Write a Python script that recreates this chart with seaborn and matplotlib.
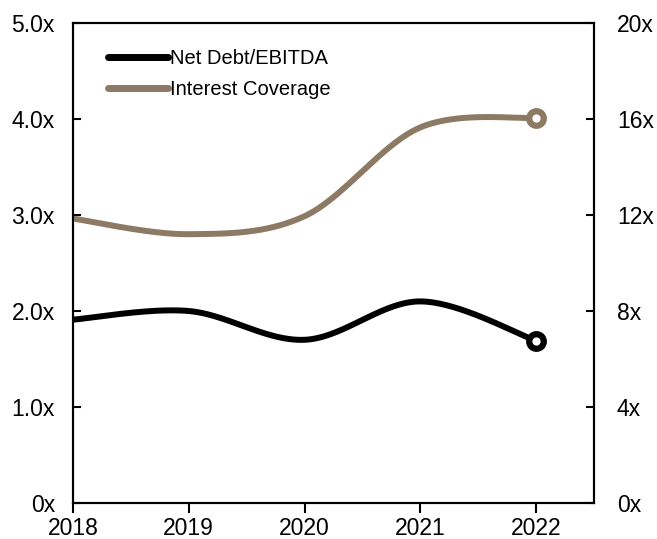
import numpy as np
import pandas as pd
import matplotlib
matplotlib.use("Agg")
import matplotlib.pyplot as plt
import seaborn as sns
from matplotlib.lines import Line2D

years = [2018, 2019, 2020, 2021, 2022]
net_debt_ebitda = [1.91, 2.00, 1.70, 2.10, 1.69]
interest_coverage = [11.85, 11.2, 11.95, 15.65, 16.05]
left_ticks = [0, 1, 2, 3, 4, 5]
left_labels = ["0x", "1.0x", "2.0x", "3.0x", "4.0x", "5.0x"]
right_ticks = [0, 4, 8, 12, 16, 20]
right_labels = ["0x", "4x", "8x", "12x", "16x", "20x"]
series_names = ["Net Debt/EBITDA", "Interest Coverage"]
colors = ["#000000", "#8C7A64"]


def excel_smooth(x, y, n=60):
    p = np.column_stack([np.asarray(x, float), np.asarray(y, float)])
    out = []
    m = len(p)
    t = np.linspace(0, 1, n)[:, None]
    for i in range(m - 1):
        p0 = p[i - 1] if i > 0 else p[i]
        p1, p2 = p[i], p[i + 1]
        p3 = p[i + 2] if i + 2 < m else p[i + 1]
        c1 = p1 + (p2 - p0) / 6
        c2 = p2 - (p3 - p1) / 6
        seg = ((1 - t) ** 3) * p1 + 3 * ((1 - t) ** 2) * t * c1 + 3 * (1 - t) * t ** 2 * c2 + t ** 3 * p2
        out.append(seg if i == 0 else seg[1:])
    s = np.vstack(out)
    return s[:, 0], s[:, 1]


sns.set_style("ticks")
plt.rcParams["font.family"] = ["Liberation Sans", "DejaVu Sans"]
plt.rcParams["text.color"] = "black"
plt.rcParams["xtick.color"] = "black"
plt.rcParams["ytick.color"] = "black"

fig = plt.figure(figsize=(6.57, 5.39), dpi=100)
ax = fig.add_axes([73 / 657, 1 - 503 / 539, (594 - 73) / 657, (503 - 23) / 539])
ax2 = ax.twinx()

LW = 4.3
sx, sy = excel_smooth(years, net_debt_ebitda)
df1 = pd.DataFrame({"x": sx, "y": sy})
sns.lineplot(data=df1, x="x", y="y", ax=ax, color=colors[0], lw=LW, sort=False,
             label=series_names[0], legend=False, solid_capstyle="butt")
sx2, sy2 = excel_smooth(years, interest_coverage)
df2 = pd.DataFrame({"x": sx2, "y": sy2})
sns.lineplot(data=df2, x="x", y="y", ax=ax2, color=colors[1], lw=LW, sort=False,
             label=series_names[1], legend=False, solid_capstyle="butt")

ax.plot([years[-1]], [net_debt_ebitda[-1]], marker="o", ms=10.5, mfc="white",
        mec=colors[0], mew=4.5, zorder=5)
ax2.plot([years[-1]], [interest_coverage[-1]], marker="o", ms=10.5, mfc="white",
         mec=colors[1], mew=4.5, zorder=5)

ax.set_xlim(2018, 2022.5)
ax.set_ylim(0, 5)
ax2.set_ylim(0, 20)
ax.set_xticks(years)
ax.set_xticklabels([str(y) for y in years])
ax.set_yticks(left_ticks)
ax.set_yticklabels(left_labels)
ax2.set_yticks(right_ticks)
ax2.set_yticklabels(right_labels)
ax.set_xlabel("")
ax.set_ylabel("")
ax2.set_ylabel("")

for a in (ax, ax2):
    for sp in a.spines.values():
        sp.set_visible(True)
        sp.set_linewidth(1.5)
        sp.set_color("black")

ax.tick_params(axis="y", direction="in", length=6, width=1.5, pad=13, labelsize=16.5, colors="black")
ax.tick_params(axis="x", direction="out", length=7, width=1.5, pad=3, labelsize=16.5, colors="black")
ax2.tick_params(axis="y", direction="in", length=6, width=1.5, pad=16.5, labelsize=16.5, colors="black")

handles = [Line2D([], [], color=c, lw=5, solid_capstyle="round") for c in colors]
leg = ax.legend(handles, series_names, loc="upper left", bbox_to_anchor=(0.044, 0.971),
                frameon=False, fontsize=14.5, handlelength=3.0, handletextpad=0.1,
                labelspacing=0.6, borderaxespad=0.2)
for txt in leg.get_texts():
    txt.set_color("black")
leg.set_zorder(10)

fig.savefig("out.png", dpi=100)
